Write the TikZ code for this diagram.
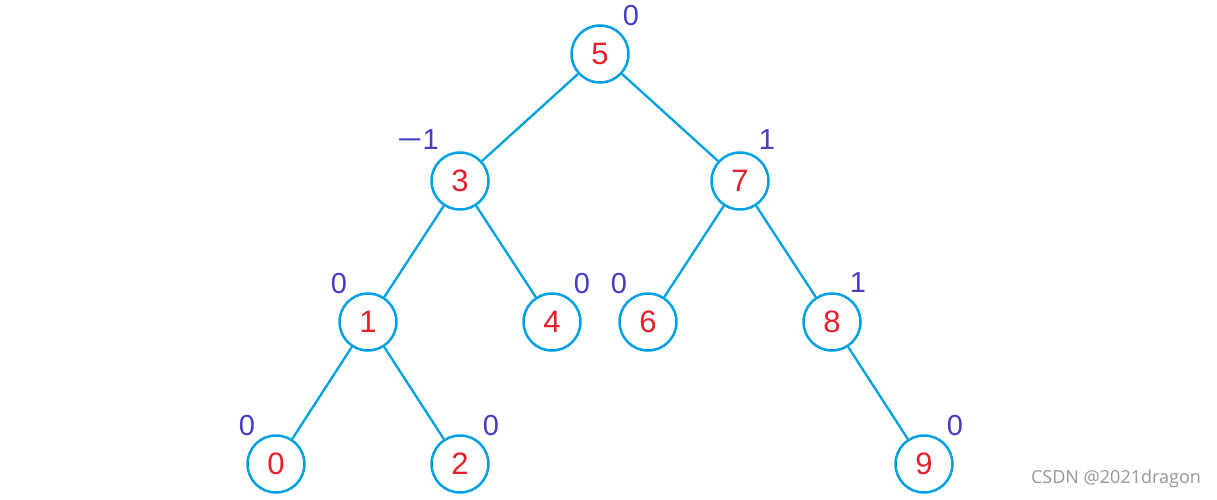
\documentclass[tikz,border=0pt]{standalone}
\usepackage{fontspec}
\setmainfont{Liberation Sans}
\newfontfamily\wmfont{Open Sans}
\definecolor{edgec}{RGB}{0,160,226}
\definecolor{numc}{RGB}{232,30,40}
\definecolor{balc}{RGB}{70,60,200}
\definecolor{wmc}{RGB}{150,150,150}
\begin{document}
\begin{tikzpicture}[x=1pt,y=-1pt,
  tnode/.style={circle,draw=edgec,line width=2.5pt,minimum size=57pt,inner sep=0pt,text=numc,font=\fontsize{31}{31}\selectfont},
  bal/.style={text=balc,font=\fontsize{29}{29}\selectfont,inner sep=0pt},
  edge/.style={draw=edgec,line width=2.3pt}]
\useasboundingbox (0,0) rectangle (1217,500);
\node[tnode] (n5) at (600,54) {5};
\node[tnode] (n3) at (460,181) {3};
\node[tnode] (n7) at (740,181) {7};
\node[tnode] (n1) at (368,322) {1};
\node[tnode] (n4) at (552,322) {4};
\node[tnode] (n6) at (648,322) {6};
\node[tnode] (n8) at (832,322) {8};
\node[tnode] (n0) at (276,464) {0};
\node[tnode] (n2) at (460,464) {2};
\node[tnode] (n9) at (924,464) {9};
\draw[edge] (n5) -- (n3);
\draw[edge] (n5) -- (n7);
\draw[edge] (n3) -- (n1);
\draw[edge] (n3) -- (n4);
\draw[edge] (n7) -- (n6);
\draw[edge] (n7) -- (n8);
\draw[edge] (n1) -- (n0);
\draw[edge] (n1) -- (n2);
\draw[edge] (n8) -- (n9);
\node[bal] (b5) at (631,16) {0};
\node[bal] (b3) at (418,140) {\scalebox{1.5}[1]{\textminus}1};
\node[bal] (b7) at (767,140) {1};
\node[bal] (b1) at (339,284) {0};
\node[bal] (b4) at (582,284) {0};
\node[bal] (b6) at (619,284) {0};
\node[bal] (b8) at (858,283) {1};
\node[bal] (b0) at (247,426) {0};
\node[bal] (b2) at (491,426) {0};
\node[bal] (b9) at (955,426) {0};
\node[text=wmc,font=\wmfont\fontsize{18}{18}\selectfont,inner sep=0pt] (wm) at (1116,479) {CSDN @2021dragon};
\end{tikzpicture}
\end{document}
